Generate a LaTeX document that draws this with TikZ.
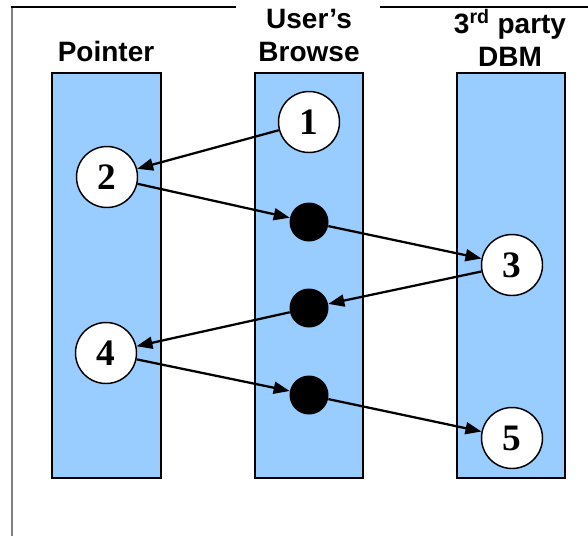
\documentclass[tikz,border=0pt]{standalone}
\usepackage{fontspec}
\setmainfont{Liberation Serif}
\setsansfont{Liberation Sans}
\usetikzlibrary{arrows.meta, positioning}
\definecolor{lanefill}{HTML}{99CCFF}

\begin{document}
\begin{tikzpicture}[x=0.75pt, y=-0.75pt,
        lane/.style={draw=black, line width=1.2pt, fill=lanefill},
        event/.style={circle, draw, line width=1.1pt, fill=white, minimum size=45.75pt,
            inner sep=0pt, font=\fontsize{28}{28}\selectfont\bfseries\rmfamily},
        hop/.style={circle, fill=black, minimum size=29.25pt, inner sep=0pt},
        title/.style={font=\fontsize{21}{25}\selectfont\bfseries\sffamily, align=center,
            inner sep=0pt, anchor=south},
        msg/.style={-{Triangle[length=12pt, width=9pt]}, line width=1.7pt}]
    \useasboundingbox (0,0) rectangle (588,536);

    % frame
    \draw[gray, line width=1.5pt] (12,536) -- (12,7);
    \draw[line width=1.1pt] (11,7) -- (236,7);
    \draw[line width=1.1pt] (380,7) -- (588,7);

    % lanes
    \draw[lane] (52,73) rectangle (161,478);
    \draw[lane] (255,73) rectangle (363,478);
    \draw[lane] (457,73) rectangle (565,478);

    \node[title] (pointer) at (106,62) {Pointer};
    \node[title] (browse) at (309,62) {User’s\\Browse};
    \node[title] (dbm) at (510,67) {3\textsuperscript{rd} party\\DBM};

    % steps
    \node[event] (one) at (309,122) {1};
    \node[event] (two) at (107,177) {2};
    \node[event] (three) at (512,265) {3};
    \node[event] (four) at (106,353) {4};
    \node[event] (five) at (512,438) {5};
    \node[hop] (d1) at (309,222) {};
    \node[hop] (d2) at (309,308) {};
    \node[hop] (d3) at (309,395) {};

    \draw
    (one) edge[msg] (two)
    (two) edge[msg] (d1)
    (d1) edge[msg] (three)
    (three) edge[msg] (d2)
    (d2) edge[msg] (four)
    (four) edge[msg] (d3)
    (d3) edge[msg] (five);
\end{tikzpicture}
\end{document}
